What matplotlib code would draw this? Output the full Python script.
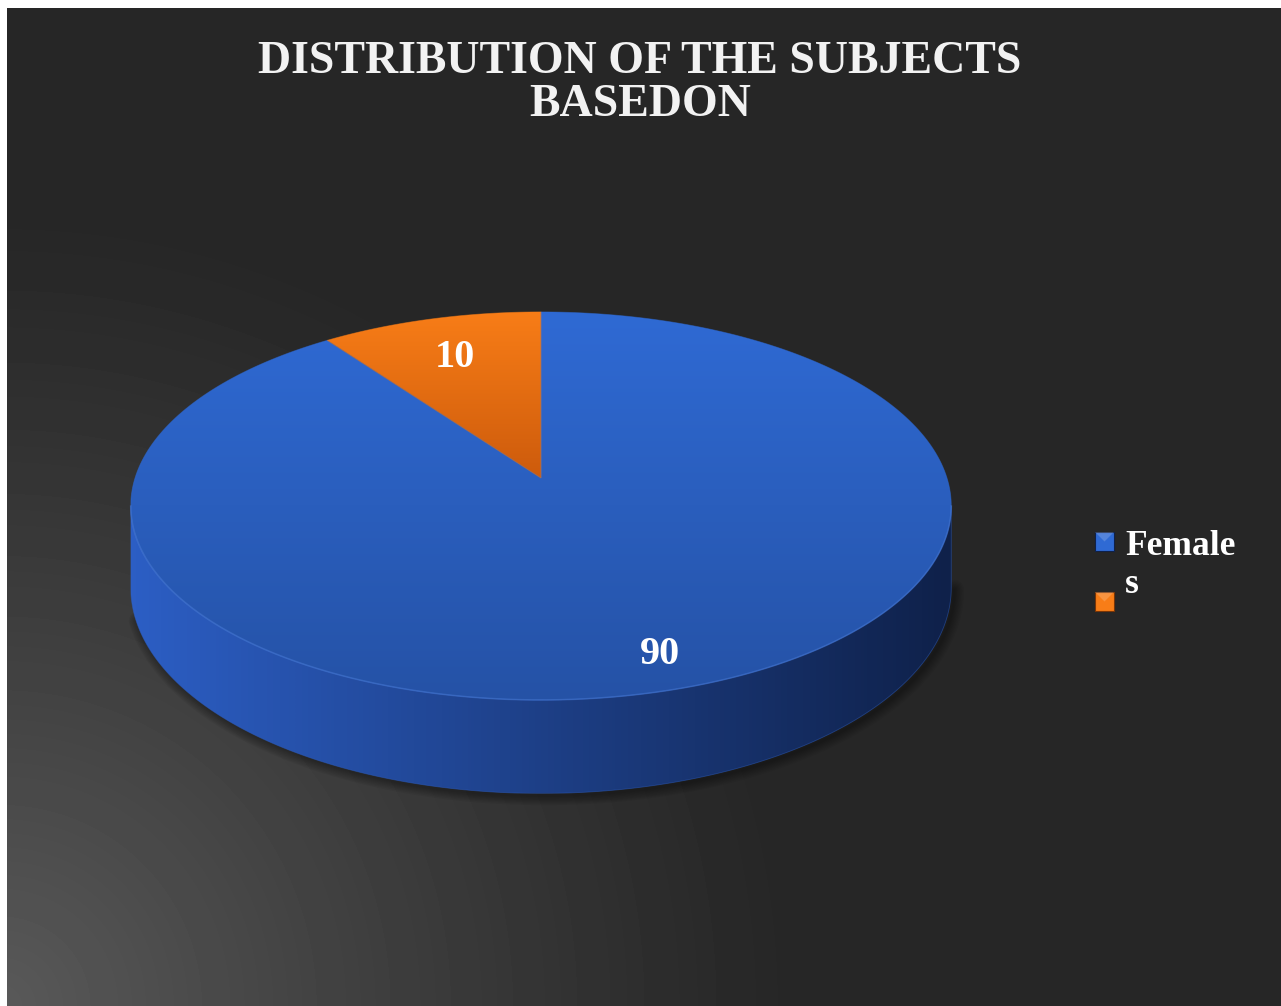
import numpy as np
import matplotlib.pyplot as plt
from matplotlib.patches import Polygon, Rectangle
from matplotlib.colors import LinearSegmentedColormap

categories = ['Females', 'Males']
values = [90, 10]
value_labels = ['90', '10']
legend_lines = [['Female', 's'], []]
top_colors = [('#2f6ad4', '#2552a6'), ('#f87d17', '#cd5b0c')]
side_colors = [('#2c5ec4', '#0f214a'), ('#d8650f', '#7a3506')]
title_lines = ['DISTRIBUTION OF THE SUBJECTS', 'BASEDON']

W, H = 1281, 1006
fig = plt.figure(figsize=(W / 100, H / 100), dpi=100, facecolor='white')
ax = fig.add_axes([0, 0, 1, 1])
ax.axis('off')

serif = 'Liberation Serif'

# dark backdrop, lighter toward the lower-left corner
x0, y0 = 7, 8
gx, gy = np.meshgrid(np.arange(x0, W), np.arange(y0, H))
dist = np.hypot(gx, gy - H)
glow = np.clip(1 - dist / 800, 0, 1) ** 1.15
bg = 0.149 + (0.35 - 0.149) * glow
ax.imshow(bg, cmap='gray', vmin=0, vmax=1, extent=(x0, W, H, y0),
          aspect='auto', zorder=0)

# 3-D pie geometry (screen pixels)
cx, cy = 541, 478
s, sv, k = 406, 190, 0.144
depth = 80


def proj(theta, r=1.0, z=0.0):
    X = r * np.cos(theta)
    Y = r * np.sin(theta)
    w = 1 + k * Y
    return cx + s * X / w, cy - sv * Y / w + z / w


def grad_fill(xy, c0, c1, horizontal, z):
    poly = Polygon(xy, closed=True, facecolor='none', edgecolor='none')
    ax.add_patch(poly)
    xmin, ymin = xy.min(0)
    xmax, ymax = xy.max(0)
    cmap = LinearSegmentedColormap.from_list('g', [c0, c1])
    g = np.linspace(0, 1, 256)
    arr = g[None, :] if horizontal else g[:, None]
    im = ax.imshow(arr, cmap=cmap, extent=(xmin, xmax, ymax, ymin),
                   aspect='auto', zorder=z, interpolation='bilinear')
    im.set_clip_path(poly)
    ax.add_patch(Polygon(xy, closed=True, facecolor='none',
                         edgecolor=c0, lw=0.6, alpha=0.5, zorder=z + 0.1))


total = float(sum(values))
bounds = np.radians(90 - 360 * np.concatenate([[0], np.cumsum(values)]) / total)

# visible part of the side wall
th_l = np.pi + np.arcsin(k)
th_r = 2 * np.pi - np.arcsin(k)

# soft shadow along the lower rim
t = np.linspace(th_l + 0.15, th_r, 300)
bx, by = proj(t, z=depth)
for lw in range(14, 0, -2):
    ax.plot(bx + 3, by + 2, color='black', lw=lw, alpha=0.05,
            solid_capstyle='round', zorder=1)

for i in range(len(values)):
    a, b = bounds[i + 1], bounds[i]
    # side wall
    for shift in (-2 * np.pi, 0, 2 * np.pi):
        lo = max(a, th_l + shift)
        hi = min(b, th_r + shift)
        if hi > lo:
            t = np.linspace(lo, hi, 200)
            ux, uy = proj(t)
            lx, ly = proj(t, z=depth)
            xy = np.column_stack([np.r_[ux, lx[::-1]], np.r_[uy, ly[::-1]]])
            grad_fill(xy, side_colors[i][0], side_colors[i][1], True, 2)
    # top face
    t = np.linspace(a, b, 300)
    px, py = proj(t)
    xy = np.column_stack([np.r_[cx, px], np.r_[cy, py]])
    grad_fill(xy, top_colors[i][0], top_colors[i][1], False, 3)

# faint bevel along the front edge of the top face
t = np.linspace(th_l, th_r, 300)
rx, ry = proj(t)
ax.plot(rx, ry, color='#5b8ce6', lw=1.2, alpha=0.3, zorder=4)

# value labels
for i, lab in enumerate(value_labels):
    mid = (bounds[i] + bounds[i + 1]) / 2
    lx, ly = proj(mid, r=0.81)
    ax.text(lx + 5, ly + 21, lab, color='white', fontsize=29,
            fontweight='bold', family=serif, ha='center', va='baseline',
            zorder=5)

# title
for line, base in zip(title_lines, [73, 116]):
    ax.text(640, base, line, color='#f2f2f2', fontsize=33,
            fontweight='bold', family=serif, ha='center', va='baseline')

# legend
for i, lines in enumerate(legend_lines):
    top = 532 + 60 * i
    ax.add_patch(Rectangle((1095, top), 19, 19, facecolor=top_colors[i][0],
                           edgecolor=side_colors[i][1], lw=0.8, zorder=5))
    # lighter upper bevel of the key
    ax.add_patch(Polygon([(1095, top), (1114, top), (1104.5, top + 9.5)],
                         closed=True, facecolor='white', alpha=0.18,
                         edgecolor='none', zorder=6))
for j, line in enumerate(legend_lines[0]):
    ax.text(1125, 555 + 38 * j, line, color='white', fontsize=25.5,
            fontweight='bold', family=serif, ha='left', va='baseline')

ax.set_xlim(0, W)
ax.set_ylim(H, 0)
fig.savefig('out.png', dpi=100, facecolor='white')
